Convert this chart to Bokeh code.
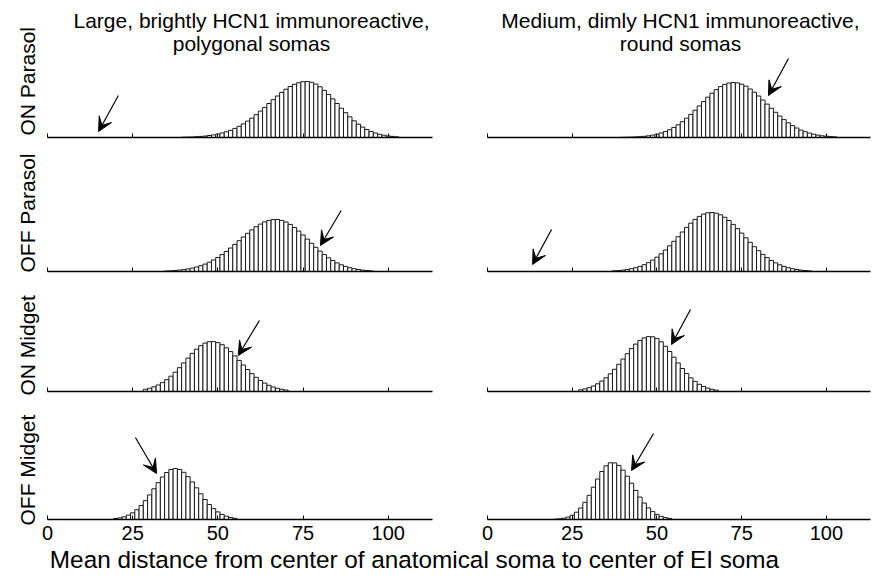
import numpy as np
from math import pi
from bokeh.plotting import figure
from bokeh.models import Range1d, Label, Arrow, VeeHead, FixedTicker
from bokeh.layouts import column, row
from bokeh.embed import file_html
from bokeh.resources import INLINE

# ---------------- data ----------------
BIN_WIDTH = 1.25
X_TICKS = [0, 25, 50, 75, 100]
X_MAX = 113

col_titles = [["Large, brightly HCN1 immunoreactive,", "polygonal somas"],
              ["Medium, dimly HCN1 immunoreactive,", "round somas"]]
row_labels = ["ON Parasol", "OFF Parasol", "ON Midget", "OFF Midget"]
x_label = "Mean distance from center of anatomical soma to center of EI soma"

# histogram counts (first bin centre, then counts per 1.25-wide bin)
on_parasol_large_start = 40.0
on_parasol_large = [0.3, 0.4, 0.5, 0.8, 1.1, 1.4, 2.0, 2.6, 3.4, 4.5, 5.7, 7.2, 9.1, 11.2, 13.6,
                    16.4, 19.4, 22.8, 26.4, 30.1, 34.0, 37.8, 41.5, 45.1, 48.3, 51.0, 53.2, 54.8,
                    55.8, 56.0, 55.2, 53.4, 50.7, 47.2, 43.1, 38.6, 34.0, 29.3, 24.8, 20.6, 16.7,
                    13.3, 10.4, 8.0, 6.0, 4.5, 3.2, 2.3, 1.6, 1.1, 0.7]
on_parasol_medium_start = 40.0
on_parasol_medium = [0.2, 0.3, 0.4, 0.6, 0.8, 1.2, 1.7, 2.4, 3.3, 4.5, 6.0, 7.8, 10.1, 12.7, 15.8,
                     19.3, 23.1, 27.3, 31.6, 36.0, 40.3, 44.3, 47.9, 50.9, 53.1, 54.5, 55.0, 54.6,
                     53.3, 51.3, 48.5, 45.3, 41.5, 37.5, 33.4, 29.2, 25.2, 21.4, 17.9, 14.7, 11.9,
                     9.5, 7.4, 5.8, 4.4, 3.3, 2.4, 1.7, 1.3, 0.9, 0.6]
off_parasol_large_start = 35.0
off_parasol_large = [0.5, 0.7, 1.0, 1.4, 1.9, 2.6, 3.4, 4.5, 5.8, 7.4, 9.3, 11.5, 14.0, 16.9, 20.0,
                     23.5, 27.1, 30.8, 34.5, 38.2, 41.6, 44.8, 47.4, 49.6, 51.1, 51.9, 52.0, 51.1,
                     49.5, 47.1, 44.0, 40.4, 36.5, 32.4, 28.2, 24.2, 20.4, 16.9, 13.7, 11.0, 8.6,
                     6.7, 5.1, 3.8, 2.8, 2.0, 1.4, 1.0, 0.7]
off_parasol_medium_start = 37.5
off_parasol_medium = [0.7, 1.0, 1.4, 2.0, 2.8, 3.8, 5.1, 6.8, 8.9, 11.4, 14.3, 17.7, 21.5, 25.7,
                      30.2, 34.8, 39.5, 44.1, 48.3, 52.1, 55.1, 57.4, 58.7, 59.0, 58.3, 56.7, 54.2,
                      51.0, 47.1, 42.9, 38.4, 33.7, 29.2, 24.8, 20.8, 17.1, 13.9, 11.0, 8.7, 6.7,
                      5.0, 3.8, 2.8, 2.0, 1.4, 1.0, 0.6]
on_midget_large_start = 28.75
on_midget_large = [2.2, 3.2, 4.7, 6.5, 8.9, 11.8, 15.3, 19.3, 23.8, 28.6, 33.4, 38.1, 42.3, 45.8,
                   48.4, 49.8, 49.9, 48.9, 46.8, 43.7, 39.9, 35.6, 31.1, 26.5, 22.0, 17.9, 14.2,
                   11.0, 8.4, 6.2, 4.5, 3.2, 2.2, 1.5]
on_midget_medium_start = 27.5
on_midget_medium = [1.7, 2.6, 3.8, 5.5, 7.7, 10.4, 13.7, 17.7, 22.2, 27.2, 32.5, 37.8, 42.9, 47.4,
                    51.1, 53.6, 54.9, 54.7, 52.9, 49.7, 45.2, 40.0, 34.3, 28.5, 23.0, 18.0, 13.7,
                    10.1, 7.2, 5.0, 3.4, 2.2, 1.4]
off_midget_large_start = 20.0
off_midget_large = [1.0, 1.6, 2.7, 4.4, 6.7, 9.8, 13.9, 18.8, 24.6, 30.7, 36.8, 42.5, 47.0, 50.0,
                    51.0, 50.0, 47.2, 42.9, 37.6, 31.7, 25.7, 20.0, 15.0, 10.9, 7.6, 5.1, 3.3,
                    2.0, 1.2]
off_midget_medium_start = 20.0
off_midget_medium = [0.3, 0.7, 1.3, 2.4, 4.3, 7.3, 11.5, 17.2, 24.2, 32.3, 40.5, 48.0, 53.7, 56.7,
                     56.6, 54.1, 49.4, 43.3, 36.3, 29.1, 22.4, 16.5, 11.6, 7.9, 5.1, 3.1, 1.9, 1.1]

panel_starts = [[on_parasol_large_start, on_parasol_medium_start],
                [off_parasol_large_start, off_parasol_medium_start],
                [on_midget_large_start, on_midget_medium_start],
                [off_midget_large_start, off_midget_medium_start]]
panel_counts = [[on_parasol_large, on_parasol_medium],
                [off_parasol_large, off_parasol_medium],
                [on_midget_large, on_midget_medium],
                [off_midget_large, off_midget_medium]]

# arrows (tail x, tail y, head x, head y) in data units
panel_arrows = [[(20.8, 42, 15.0, 6), (88.8, 79, 82.9, 42)],
                [(86.2, 61, 80.1, 26), (18.9, 42, 13.3, 7)],
                [(62.2, 71, 56.0, 36), (59.9, 82, 54.3, 47)],
                [(25.8, 82, 32.0, 46), (49.0, 86, 42.5, 49)]]

# ---------------- layout / style ----------------
FONT = "Liberation Sans"
PAGE_H = 576
LABEL_W = 40
MAIN_W = 838
TITLE_H = 55
XLABEL_H = 30
ROW_FRAME_H = [82, 111, 101, 108]
ROW_BORDER_TOP = [0, 12, 9, 10]
ROW_BORDER_BOTTOM = [11, 10, 10, 27]
COL_BORDER_LEFT = [7, 27]
COL_FRAME_W = [385, 383]
COL_BORDER_RIGHT = [28, 8]
TITLE_X = [211, 640]
TITLE_Y = [35.5, 12.5]
ROW_LABEL_X = 27
ROW_LABEL_BOTTOM = [135, 272, 395, 525]   # page y where each rotated row label starts
XLABEL_X = 374
XLABEL_Y = 17.5


def blank_fig(w, h):
    f = figure(width=w, height=h, x_range=Range1d(0, w), y_range=Range1d(0, h),
               output_backend="svg", toolbar_location=None,
               min_border_left=0, min_border_right=0, min_border_top=0, min_border_bottom=0)
    f.axis.visible = False
    f.grid.visible = False
    f.outline_line_color = None
    return f


def make_panel(r, c):
    W = COL_BORDER_LEFT[c] + COL_FRAME_W[c] + COL_BORDER_RIGHT[c]
    H = ROW_BORDER_TOP[r] + ROW_FRAME_H[r] + ROW_BORDER_BOTTOM[r]
    p = figure(width=W, height=H, x_range=Range1d(0, X_MAX), y_range=Range1d(0, ROW_FRAME_H[r]),
               output_backend="svg", toolbar_location=None,
               min_border_left=COL_BORDER_LEFT[c], min_border_right=COL_BORDER_RIGHT[c],
               min_border_top=ROW_BORDER_TOP[r], min_border_bottom=ROW_BORDER_BOTTOM[r])
    p.outline_line_color = None
    p.grid.visible = False
    p.yaxis.visible = False

    counts = panel_counts[r][c]
    xs = panel_starts[r][c] + BIN_WIDTH * np.arange(len(counts))
    p.vbar(x=xs, top=counts, bottom=0, width=BIN_WIDTH, fill_color="white",
           line_color="#1a1a1a", line_width=1)

    ax = p.xaxis[0]
    ax.ticker = FixedTicker(ticks=X_TICKS)
    ax.axis_line_color = "black"
    ax.axis_line_width = 1.5
    ax.major_tick_in = 4
    ax.major_tick_out = 0
    ax.major_tick_line_color = "black"
    ax.minor_tick_line_color = None
    if r < 3:
        ax.major_label_overrides = {t: "" for t in X_TICKS}
        ax.major_label_text_font_size = "1px"
        ax.major_label_standoff = 0
    else:
        ax.major_label_text_font_size = "20px"
        ax.major_label_text_font = FONT
        ax.major_label_text_color = "black"
        ax.major_label_standoff = 6

    xt, yt, xh, yh = panel_arrows[r][c]
    p.add_layout(Arrow(end=VeeHead(size=14, fill_color="black", line_color="black"),
                       x_start=xt, y_start=yt, x_end=xh, y_end=yh,
                       line_color="black", line_width=1.2))
    return p


# left strip with the rotated row labels
fl = blank_fig(LABEL_W, PAGE_H)
for r in range(4):
    fl.add_layout(Label(x=ROW_LABEL_X, y=PAGE_H - ROW_LABEL_BOTTOM[r], text=row_labels[r],
                        angle=pi / 2, text_align="left", text_baseline="middle",
                        text_font=FONT, text_font_size="21px", text_color="black"))

# column titles
ft = blank_fig(MAIN_W, TITLE_H)
for c in range(2):
    for k, line in enumerate(col_titles[c]):
        ft.add_layout(Label(x=TITLE_X[c], y=TITLE_Y[k], text=line, text_align="center",
                            text_baseline="middle", text_font=FONT,
                            text_font_size="21px", text_color="black"))

main = [ft]
for r in range(4):
    main.append(row(make_panel(r, 0), make_panel(r, 1)))

fx = blank_fig(MAIN_W, XLABEL_H)
fx.add_layout(Label(x=XLABEL_X, y=XLABEL_Y, text=x_label, text_align="center",
                    text_baseline="middle", text_font=FONT, text_font_size="24.3px",
                    text_color="black"))
main.append(fx)

layout = row(fl, column(*main))

open("out.html", "w").write(file_html(layout, INLINE))
